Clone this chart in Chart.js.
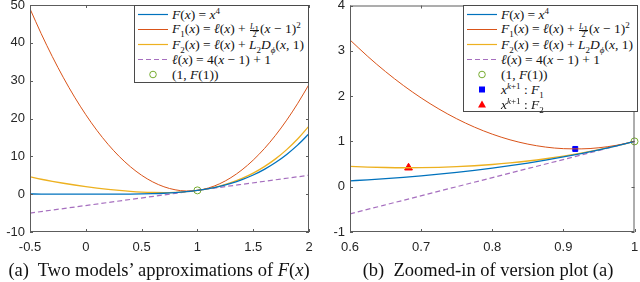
<!DOCTYPE html>
<html>
<head>
<meta charset="utf-8">
<script src="https://cdn.jsdelivr.net/npm/chart.js@4"></script>
<style>
  html, body { margin: 0; padding: 0; background: #fff; }
  #wrap { position: relative; width: 640px; height: 282px; overflow: hidden; }
  .panel { position: absolute; top: 0; width: 320px; height: 282px; }
  .legend {
    position: absolute; background: #fff; border: 1px solid #4a4a4a; box-sizing: border-box;
    font-family: "Liberation Serif", serif; font-size: 13.5px; color: #111; padding-top: 1px;
  }
  .legend .row { height: 15px; line-height: 15px; display: flex; align-items: center; white-space: nowrap; }
  .legend svg { width: 37px; height: 15px; flex: none; }
  .legend i { font-style: italic; }
  .legend sub, .legend sup { font-size: 9px; line-height: 0; }
  .frac { display: inline-flex; flex-direction: column; align-items: center; font-size: 8px; line-height: 7px; vertical-align: middle; margin: 0 1px; }
  .frac span:first-child { border-bottom: 0.7px solid #111; }
  .caption { position: absolute; top: 260px; transform: translateX(-50%); font-family: "Liberation Serif", serif; font-size: 18.5px; color: #111; white-space: nowrap; }
</style>
</head>
<body>
<div id="wrap">
  <div class="panel" style="left:0"><canvas id="chartA" width="320" height="282"></canvas></div>
  <div class="panel" style="left:320px"><canvas id="chartB" width="320" height="282"></canvas></div>

  <div class="legend" style="left:134px; top:5px; width:175px; height:78px;">
    <div class="row"><svg><line x1="3" y1="7.5" x2="33" y2="7.5" stroke="#0072BD" stroke-width="1.2"/></svg><span><i>F</i>(<i>x</i>) = <i>x</i><sup>4</sup></span></div>
    <div class="row"><svg><line x1="3" y1="7.5" x2="33" y2="7.5" stroke="#D95319" stroke-width="1"/></svg><span><i>F</i><sub>1</sub>(<i>x</i>) = <i>ℓ</i>(<i>x</i>) + <span class="frac"><span><i>L</i><sub>1</sub></span><span>2</span></span>(<i>x</i> − 1)<sup>2</sup></span></div>
    <div class="row"><svg><line x1="3" y1="7.5" x2="33" y2="7.5" stroke="#EDB120" stroke-width="1.2"/></svg><span><i>F</i><sub>2</sub>(<i>x</i>) = <i>ℓ</i>(<i>x</i>) + <i>L</i><sub>2</sub><i>D</i><sub><i>ϕ</i></sub>(<i>x</i>, 1)</span></div>
    <div class="row"><svg><line x1="3" y1="7.5" x2="33" y2="7.5" stroke="#A66FBF" stroke-width="1.2" stroke-dasharray="5,3"/></svg><span><i>ℓ</i>(<i>x</i>) = 4(<i>x</i> − 1) + 1</span></div>
    <div class="row"><svg><circle cx="18" cy="7.5" r="3.3" fill="none" stroke="#77AC30" stroke-width="1"/></svg><span>(1, <i>F</i>(1))</span></div>
  </div>

  <div class="legend" style="left:463px; top:5px; width:175px; height:107px;">
    <div class="row"><svg><line x1="3" y1="7.5" x2="33" y2="7.5" stroke="#0072BD" stroke-width="1.2"/></svg><span><i>F</i>(<i>x</i>) = <i>x</i><sup>4</sup></span></div>
    <div class="row"><svg><line x1="3" y1="7.5" x2="33" y2="7.5" stroke="#D95319" stroke-width="1"/></svg><span><i>F</i><sub>1</sub>(<i>x</i>) = <i>ℓ</i>(<i>x</i>) + <span class="frac"><span><i>L</i><sub>1</sub></span><span>2</span></span>(<i>x</i> − 1)<sup>2</sup></span></div>
    <div class="row"><svg><line x1="3" y1="7.5" x2="33" y2="7.5" stroke="#EDB120" stroke-width="1.2"/></svg><span><i>F</i><sub>2</sub>(<i>x</i>) = <i>ℓ</i>(<i>x</i>) + <i>L</i><sub>2</sub><i>D</i><sub><i>ϕ</i></sub>(<i>x</i>, 1)</span></div>
    <div class="row"><svg><line x1="3" y1="7.5" x2="33" y2="7.5" stroke="#A66FBF" stroke-width="1.2" stroke-dasharray="5,3"/></svg><span><i>ℓ</i>(<i>x</i>) = 4(<i>x</i> − 1) + 1</span></div>
    <div class="row"><svg><circle cx="18" cy="7.5" r="3.3" fill="none" stroke="#77AC30" stroke-width="1"/></svg><span>(1, <i>F</i>(1))</span></div>
    <div class="row"><svg><rect x="15" y="4.5" width="6" height="6" fill="#0000FF"/></svg><span><i>x</i><sup><i>k</i>+1</sup> : <i>F</i><sub>1</sub></span></div>
    <div class="row"><svg><polygon points="18,3.5 22,10.5 14,10.5" fill="#FF0000"/></svg><span><i>x</i><sup><i>k</i>+1</sup> : <i>F</i><sub>2</sub></span></div>
  </div>

  <div class="caption" style="left:159px">(a)&nbsp; Two models’ approximations of <i>F</i>(<i>x</i>)</div>
  <div class="caption" style="left:488px">(b)&nbsp; Zoomed-in of version plot (a)</div>
</div>

<script>
// 左图：整体范围 x ∈ [-0.5, 2]
const xLeft  = [-0.5, -0.4, -0.3, -0.2, -0.1, 0, 0.1, 0.2, 0.3, 0.4, 0.5, 0.6, 0.7, 0.8, 0.9, 1.0,
                1.1, 1.2, 1.3, 1.4, 1.5, 1.6, 1.7, 1.8, 1.9, 2.0];
const fLeft  = [0.0625, 0.0256, 0.0081, 0.0016, 0.0001, 0, 0.0001, 0.0016, 0.0081, 0.0256, 0.0625,
                0.1296, 0.2401, 0.4096, 0.6561, 1, 1.4641, 2.0736, 2.8561, 3.8416, 5.0625, 6.5536,
                8.3521, 10.4976, 13.0321, 16];
const f1Left = [49, 42.44, 36.36, 30.76, 25.64, 21, 16.84, 13.16, 9.96, 7.24, 5, 3.24, 1.96, 1.16,
                0.84, 1, 1.64, 2.76, 4.36, 6.44, 9, 12.04, 15.56, 19.56, 24.04, 29];
const f2Left = [4.5625, 3.9456, 3.3881, 2.8816, 2.4201, 2, 1.6201, 1.2816, 0.9881, 0.7456, 0.5625,
                0.4496, 0.4201, 0.4896, 0.6761, 1, 1.4841, 2.1536, 3.0361, 4.1616, 5.5625, 7.2736,
                9.3321, 11.7776, 14.6521, 18];
const lineLeftX = [-0.5, 2];
const lineLeftY = [-5, 5];

// 右图：放大 x ∈ [0.6, 1]
const xRight  = [0.6, 0.625, 0.65, 0.675, 0.7, 0.725, 0.75, 0.775, 0.8, 0.825, 0.85, 0.875, 0.9,
                 0.925, 0.95, 0.975, 1];
const fRight  = [0.1296, 0.1526, 0.1785, 0.2076, 0.2401, 0.2763, 0.3164, 0.3608, 0.4096, 0.4633,
                 0.5220, 0.5862, 0.6561, 0.7321, 0.8145, 0.9037, 1];
const f1Right = [3.24, 2.875, 2.54, 2.235, 1.96, 1.715, 1.5, 1.315, 1.16, 1.035, 0.94, 0.875, 0.84,
                 0.835, 0.86, 0.915, 1];
const f2Right = [0.4496, 0.4338, 0.4235, 0.4188, 0.4201, 0.4275, 0.4414, 0.462, 0.4896, 0.5245,
                 0.567, 0.6174, 0.6761, 0.7433, 0.8195, 0.9049, 1];
const lineRightX = [0.6, 1];
const lineRightY = [-0.6, 1];

// 标记点
const anchorPt = [1, 1];
const stepF1 = [0.9167, 0.8333];
const stepF2 = [0.6823, 0.4187];

// 刻度
const xTicksLeft  = [-0.5, 0, 0.5, 1, 1.5, 2];
const yTicksLeft  = [-10, 0, 10, 20, 30, 40, 50];
const xTicksRight = [0.6, 0.7, 0.8, 0.9, 1];
const yTicksRight = [-1, 0, 1, 2, 3, 4];

const pts = (xs, ys) => xs.map((x, i) => ({ x: x, y: ys[i] }));

// 画坐标框和内侧刻度线（MATLAB 风格）
const frameTicks = {
    id: 'frameTicks',
    afterDraw(chart) {
        const { ctx, chartArea: a, scales } = chart;
        ctx.save();
        ctx.strokeStyle = '#5c5c5c';
        ctx.lineWidth = 1;
        ctx.strokeRect(a.left + 0.5, a.top + 0.5, a.right - a.left - 1, a.bottom - a.top - 1);
        ctx.beginPath();
        scales.x.ticks.forEach(t => {
            const px = Math.round(scales.x.getPixelForValue(t.value)) + 0.5;
            ctx.moveTo(px, a.bottom); ctx.lineTo(px, a.bottom - 3);
            ctx.moveTo(px, a.top); ctx.lineTo(px, a.top + 3);
        });
        scales.y.ticks.forEach(t => {
            const py = Math.round(scales.y.getPixelForValue(t.value)) + 0.5;
            ctx.moveTo(a.left, py); ctx.lineTo(a.left + 3, py);
            ctx.moveTo(a.right, py); ctx.lineTo(a.right - 3, py);
        });
        ctx.stroke();
        ctx.restore();
    }
};

function curve(data, color, width, dash) {
    return {
        data: data, showLine: true, borderColor: color, borderWidth: width, borderDash: dash || [],
        pointRadius: 0, cubicInterpolationMode: 'monotone', fill: false
    };
}

function marker(pt, style, color, size, filled) {
    return {
        data: [{ x: pt[0], y: pt[1] }], showLine: false, pointStyle: style, pointRadius: size,
        borderColor: color, backgroundColor: filled ? color : 'transparent', borderWidth: 1, clip: false
    };
}

function makeChart(id, xr, yr, xTicks, yTicks, datasets, padRight) {
    const tickFont = { family: '"Liberation Sans", Arial, sans-serif', size: 13 };
    const fmt = v => String(Math.round(v * 100) / 100);
    return new Chart(document.getElementById(id), {
        type: 'scatter',
        data: { datasets: datasets },
        options: {
            responsive: false, animation: false,
            layout: { padding: { left: 0, right: padRight, top: 5, bottom: 0 } },
            plugins: { legend: { display: false }, tooltip: { enabled: false } },
            scales: {
                x: {
                    type: 'linear', min: xr[0], max: xr[1],
                    afterBuildTicks: s => { s.ticks = xTicks.map(v => ({ value: v })); },
                    afterFit: s => { s.height = 50; s.paddingLeft = 0; s.paddingRight = 0; },
                    grid: { display: false, drawTicks: false }, border: { display: false },
                    ticks: { color: '#262626', font: tickFont, padding: 8, maxRotation: 0, autoSkip: false, callback: fmt }
                },
                y: {
                    type: 'linear', min: yr[0], max: yr[1],
                    afterBuildTicks: s => { s.ticks = yTicks.map(v => ({ value: v })); },
                    afterFit: s => { s.width = 30; s.paddingTop = 0; s.paddingBottom = 0; },
                    grid: { display: false, drawTicks: false }, border: { display: false },
                    ticks: { color: '#262626', font: tickFont, padding: 5, autoSkip: false, callback: fmt }
                }
            }
        },
        plugins: [frameTicks]
    });
}

makeChart('chartA', [-0.5, 2], [-10, 50], xTicksLeft, yTicksLeft, [
    curve(pts(xLeft, fLeft), '#0072BD', 1.3),
    curve(pts(xLeft, f1Left), '#D95319', 1),
    curve(pts(xLeft, f2Left), '#EDB120', 1.3),
    curve(pts(lineLeftX, lineLeftY), '#A66FBF', 1.2, [5, 3]),
    marker(anchorPt, 'circle', '#77AC30', 3.5, false)
], 11);

makeChart('chartB', [0.6, 1], [-1, 4], xTicksRight, yTicksRight, [
    curve(pts(xRight, fRight), '#0072BD', 1.3),
    curve(pts(xRight, f1Right), '#D95319', 1),
    curve(pts(xRight, f2Right), '#EDB120', 1.3),
    curve(pts(lineRightX, lineRightY), '#A66FBF', 1.2, [5, 3]),
    marker(anchorPt, 'circle', '#77AC30', 3.5, false),
    marker(stepF1, 'rect', '#0000FF', 3.5, true),
    marker(stepF2, 'triangle', '#FF0000', 4.5, true)
], 3);
</script>
</body>
</html>
